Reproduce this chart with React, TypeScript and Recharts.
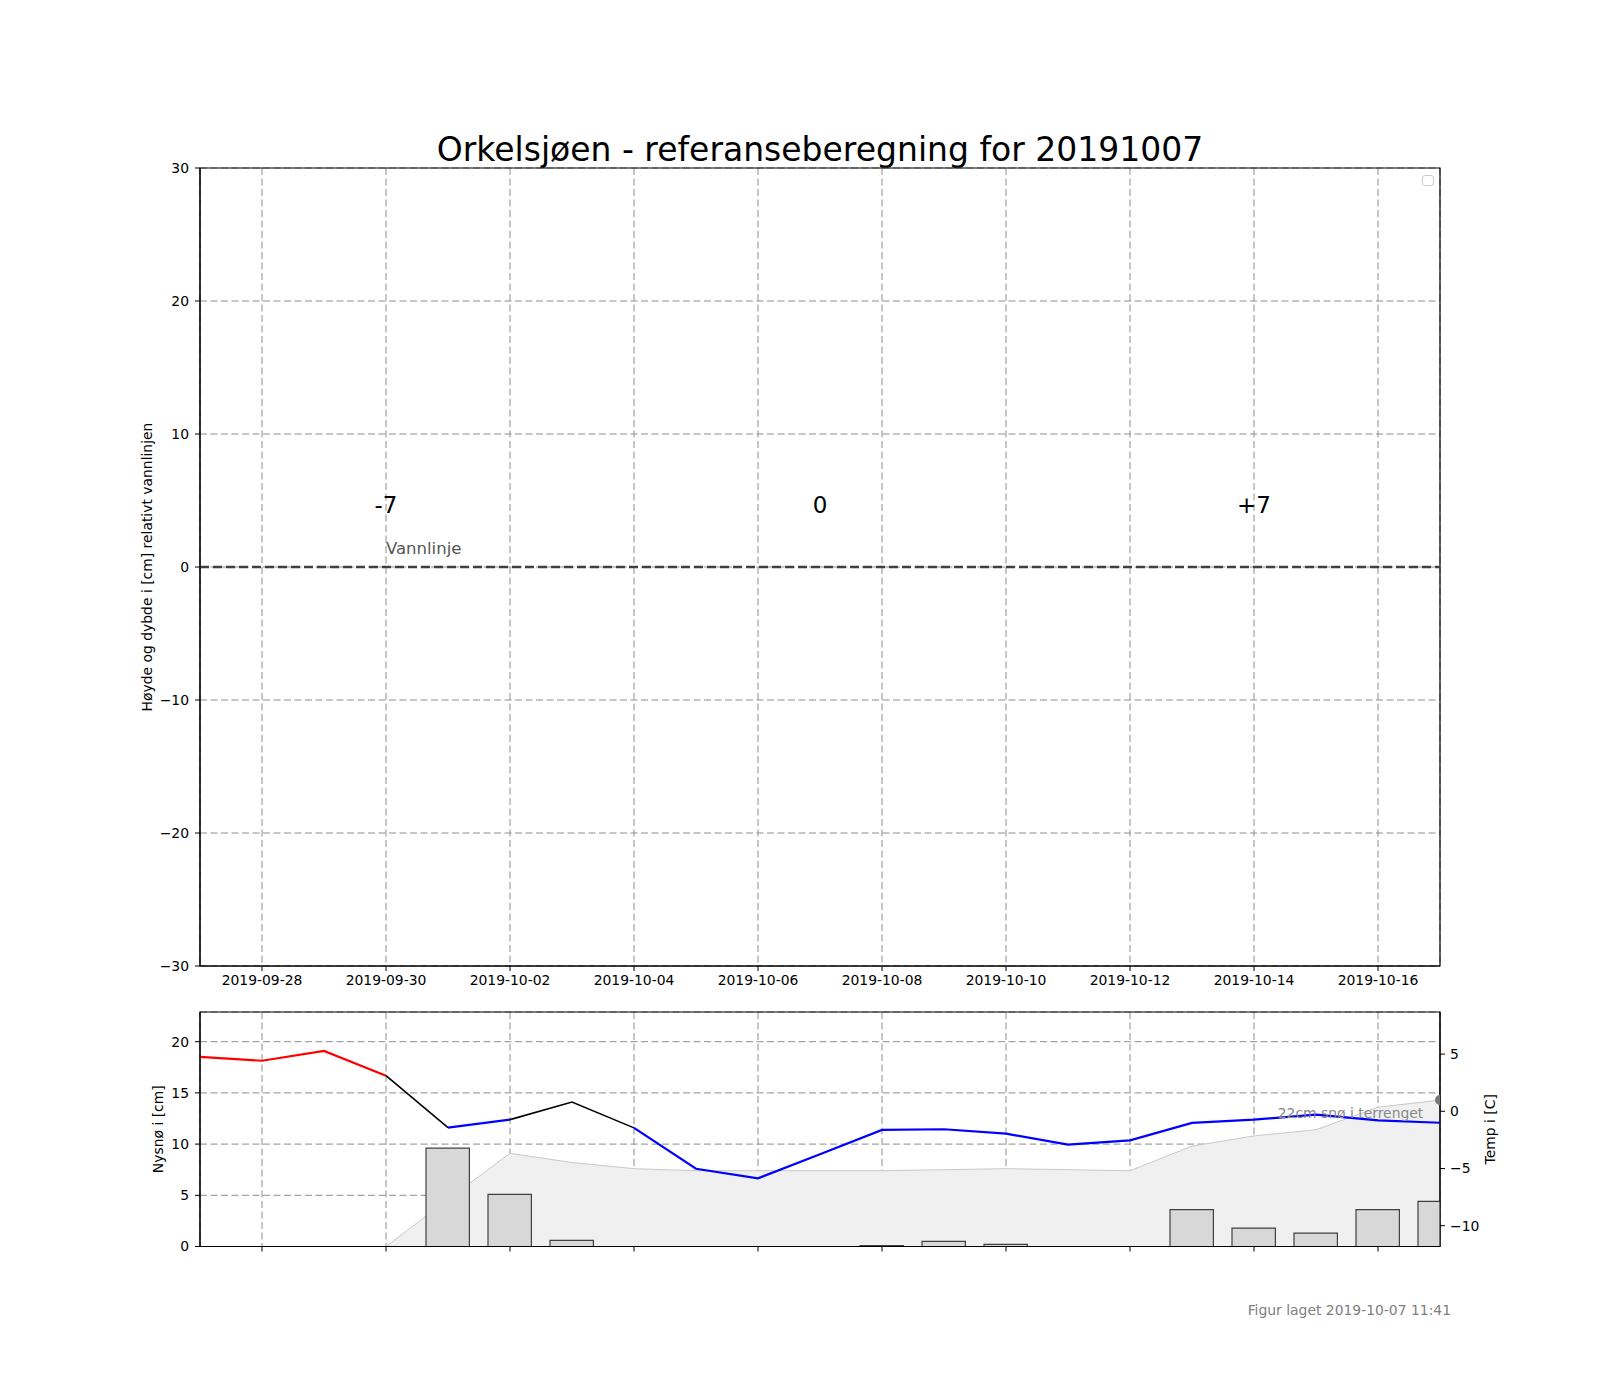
import React from 'react';
import {
  ComposedChart,
  XAxis,
  YAxis,
  CartesianGrid,
  ReferenceArea,
  ReferenceDot,
  Area,
  Bar,
  Line,
  Label,
} from 'recharts';

const dates = [
  '2019-09-27', '2019-09-28', '2019-09-29', '2019-09-30', '2019-10-01', '2019-10-02', '2019-10-03',
  '2019-10-04', '2019-10-05', '2019-10-06', '2019-10-07', '2019-10-08', '2019-10-09', '2019-10-10',
  '2019-10-11', '2019-10-12', '2019-10-13', '2019-10-14', '2019-10-15', '2019-10-16', '2019-10-17',
];
const xTickDays = [1, 3, 5, 7, 9, 11, 13, 15, 17, 19];
const levelTicks = [-30, -20, -10, 0, 10, 20, 30];
const snowTicks = [0, 5, 10, 15, 20];
const tempTicks = [-10, -5, 0, 5];

// nysnø per dag (cm)
const newSnow = [0, 0, 0, 0, 9.6, 5.1, 0.6, 0, 0, 0, 0, 0.1, 0.5, 0.2, 0, 0, 3.6, 1.8, 1.3, 3.6, 4.4];
// snø i terrenget (cm)
const snowDepth = [0, 0, 0, 0, 4.6, 9.1, 8.2, 7.6, 7.4, 7.4, 7.4, 7.4, 7.5, 7.6, 7.5, 7.4, 9.8, 10.8, 11.4, 13.6, 14.3];
// temperatur (C)
const temps = [
  4.75, 4.42, 5.27, 3.11, -1.43, -0.73, 0.81, -1.45, -5.02, -5.86, -3.76, -1.63, -1.57, -1.96,
  -2.92, -2.54, -1.02, -0.73, -0.3, -0.79, -1.0,
];
// farge per linjestykke mellom to dager
const segColors = [
  'red', 'red', 'red', 'black', 'blue', 'black', 'black',
  'blue', 'blue', 'blue', 'blue', 'blue', 'blue', 'blue', 'blue', 'blue', 'blue', 'blue', 'blue', 'blue',
];

const periodLabels = ['-7', '0', '+7'];
const periodDays = [3, 10, 17];
const periodLevel = 5;
const waterLevel = 0;
const waterLabel = 'Vannlinje';
const waterLabelDay = 3;
const waterLabelLevel = 1;
const terrainSnowCm = 22;
const snowNoteDay = 19.73;
const snowNoteLevel = 12.55;

const snowMax = 22.9;
const tempMin = -11.82;
const tempMax = 8.68;

const colorMap: Record<string, string> = { red: '#ff0000', black: '#000000', blue: '#0000ff' };
const widthMap: Record<string, number> = { red: 2.2, black: 1.6, blue: 2.2 };

// slå sammen like farger til løp
const runs: { color: string; start: number; end: number }[] = [];
segColors.forEach((c, i) => {
  const last = runs[runs.length - 1];
  if (last && last.color === c) last.end = i + 1;
  else runs.push({ color: c, start: i, end: i + 1 });
});

const topRows = dates.map((d, i) => ({ x: i, water: waterLevel }));
const bottomRows = dates.map((d, i) => {
  const row: Record<string, number | null> = { x: i, newSnow: newSnow[i], snow: snowDepth[i] };
  runs.forEach((r, k) => {
    row[`t${k}`] = i >= r.start && i <= r.end ? temps[i] : null;
  });
  return row;
});

const FONT = 'DejaVu Sans';
const tickStyle = { fill: '#000', fontSize: 13.9, fontFamily: FONT };
const minus = (v: number) => (v < 0 ? '\u2212' + Math.abs(v) : String(v));
const gridDash = '7 3.5';
const gridColor = '#8e8e8e';

const sideLabel = (text: string, dx: number) => (props: any) => {
  const vb = props.viewBox;
  const x = vb.x + dx;
  const y = vb.y + vb.height / 2;
  return (
    <text x={x} y={y} transform={`rotate(-90 ${x} ${y})`} textAnchor="middle" dominantBaseline="central"
      fontSize={13.9} fontFamily={FONT} fill="#000">
      {text}
    </text>
  );
};

const textShape = (text: string, size: number, color: string, anchor: string, dy: number) => (p: any) => (
  <text x={p.cx} y={p.cy + dy} textAnchor={anchor} fontSize={size} fontFamily={FONT} fill={color}>
    {text}
  </text>
);

export default function App() {
  return (
    <div style={{ position: 'absolute', left: 0, top: 0, width: 1600, height: 1400, background: '#fff', fontFamily: FONT }}>
      <div style={{ position: 'absolute', left: 0, width: 1640, top: 128, textAlign: 'center', fontSize: 33, color: '#000', lineHeight: '44px' }}>
        Orkelsjøen - referanseberegning for 20191007
      </div>
      <div style={{ position: 'absolute', left: 0, top: 0 }}>
        <ComposedChart width={1600} height={1000} data={topRows} margin={{ top: 168, right: 160, bottom: 4, left: 140 }}>
          <CartesianGrid stroke={gridColor} strokeDasharray={gridDash} strokeWidth={1} />
          <XAxis dataKey="x" type="number" domain={[0, 20]} ticks={xTickDays} tickFormatter={(v) => dates[v]}
            height={30} tickSize={5} tickMargin={4} tick={tickStyle} stroke="#000" interval={0} />
          <YAxis type="number" domain={[-30, 30]} ticks={levelTicks} tickFormatter={minus} width={60}
            tickSize={5} tickMargin={6} tick={tickStyle} stroke="#000" interval={0}>
            <Label content={sideLabel('Høyde og dybde i [cm] relativt vannlinjen', 7)} />
          </YAxis>
          <Line type="linear" dataKey="water" stroke="#404040" strokeWidth={2.6} strokeDasharray="9 4"
            dot={false} activeDot={false} isAnimationActive={false} />
          <ReferenceDot x={waterLabelDay} y={waterLabelLevel} r={0}
            shape={textShape(waterLabel, 16.5, '#555', 'start', 0)} />
          {periodLabels.map((t, i) => (
            <ReferenceDot key={t} x={periodDays[i]} y={periodLevel} r={0}
              shape={textShape(t, 23, '#000', 'middle', 12)} />
          ))}
          <ReferenceArea x1={0} x2={20} y1={-30} y2={30} fill="none" stroke="#000" strokeOpacity={1}
            strokeWidth={1.2} ifOverflow="visible" />
        </ComposedChart>
      </div>
      <div style={{ position: 'absolute', left: 1422, top: 175, width: 10, height: 9, border: '1px solid #cccccc', borderRadius: 3 }} />
      <div style={{ position: 'absolute', left: 0, top: 1000 }}>
        <ComposedChart width={1600} height={300} data={bottomRows} margin={{ top: 12, right: 100, bottom: 33.5, left: 140 }}>
          <CartesianGrid yAxisId="left" stroke={gridColor} strokeDasharray={gridDash} strokeWidth={1} />
          <XAxis dataKey="x" type="number" domain={[0, 20]} ticks={xTickDays} tickFormatter={() => ''}
            height={20} tickSize={5} stroke="#000" interval={0} allowDataOverflow />
          <YAxis yAxisId="left" type="number" domain={[0, snowMax]} ticks={snowTicks} width={60}
            tickSize={5} tickMargin={6} tick={tickStyle} stroke="#000" interval={0} allowDataOverflow>
            <Label content={sideLabel('Nysnø i [cm]', 18)} />
          </YAxis>
          <YAxis yAxisId="right" orientation="right" type="number" domain={[tempMin, tempMax]} ticks={tempTicks}
            tickFormatter={minus} width={60} tickSize={5} tickMargin={5} tick={tickStyle} stroke="#000" interval={0}
            allowDataOverflow>
            <Label content={sideLabel('Temp i [C]', 50)} />
          </YAxis>
          <Area yAxisId="left" type="linear" dataKey="snow" fill="#f0f0f0" fillOpacity={1} stroke="#c8c8c8"
            strokeWidth={1} dot={false} activeDot={false} isAnimationActive={false} />
          <Bar yAxisId="left" dataKey="newSnow" barSize={43.4} fill="#d8d8d8" stroke="#404040" strokeWidth={1.2}
            isAnimationActive={false} />
          <ReferenceDot yAxisId="left" x={snowNoteDay} y={snowNoteLevel} r={0}
            shape={textShape(`${terrainSnowCm}cm snø i terrenget`, 13.9, '#888', 'end', 0)} />
          {runs.map((r, k) => (
            <Line key={k} yAxisId="right" type="linear" dataKey={`t${k}`} stroke={colorMap[r.color]}
              strokeWidth={widthMap[r.color]} dot={false} activeDot={false} connectNulls={false}
              isAnimationActive={false} />
          ))}
          <ReferenceDot yAxisId="left" x={20} y={snowDepth[snowDepth.length - 1]} r={5} fill="#777" stroke="none"
            ifOverflow="hidden" />
          <ReferenceArea yAxisId="left" x1={0} x2={20} y1={0} y2={snowMax} fill="none" stroke="#000" strokeOpacity={1}
            strokeWidth={1.2} ifOverflow="visible" />
        </ComposedChart>
      </div>
      <div style={{ position: 'absolute', right: 149, top: 1301, fontSize: 13.9, color: '#808080', lineHeight: '18px' }}>
        Figur laget 2019-10-07 11:41
      </div>
    </div>
  );
}
